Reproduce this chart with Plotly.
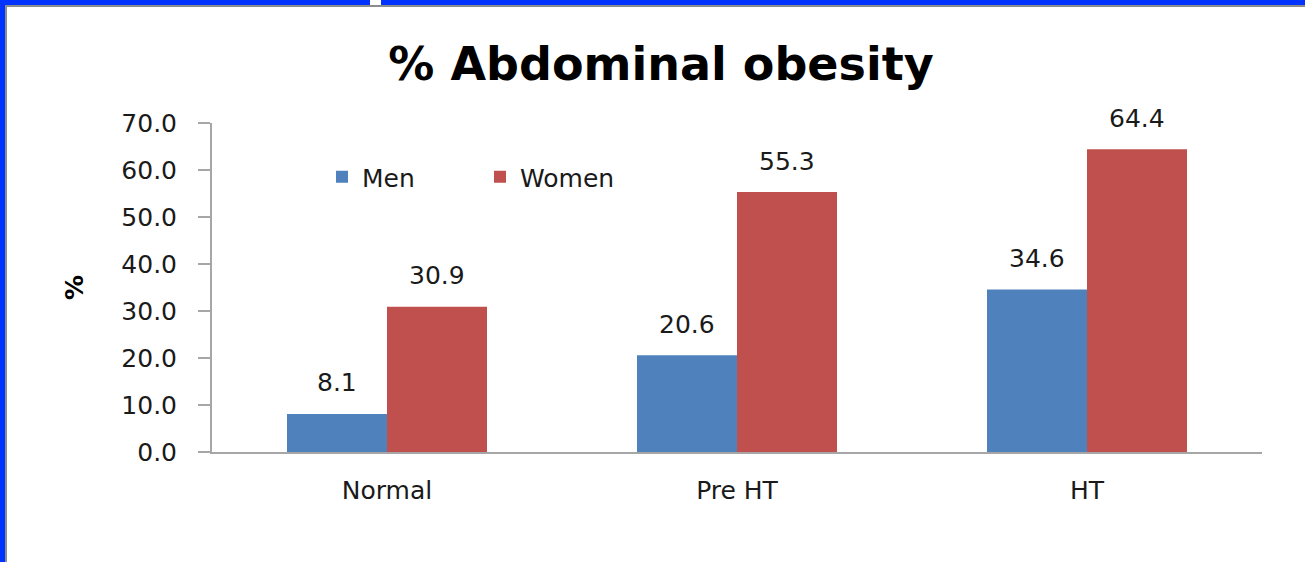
import plotly.graph_objects as go

categories = ["Normal", "Pre HT", "HT"]
men = [8.1, 20.6, 34.6]
women = [30.9, 55.3, 64.4]
y_ticks = [0, 10, 20, 30, 40, 50, 60, 70]
y_tick_labels = ["0.0", "10.0", "20.0", "30.0", "40.0", "50.0", "60.0", "70.0"]

W, H = 1305, 562
L, R, T, B = 212, 43, 123, 110
FONT = "DejaVu Sans"
TXT = "#1a1a1a"
FS = 25

fig = go.Figure()
fig.add_trace(go.Bar(name="Men", x=categories, y=men, marker_color="#4F81BD",
                     marker_line_width=0))
fig.add_trace(go.Bar(name="Women", x=categories, y=women, marker_color="#C0504D",
                     marker_line_width=0))

annotations = []
for cat, m, w in zip(categories, men, women):
    for val, dx in ((m, -50), (w, 50)):
        annotations.append(dict(x=cat, y=val, xref="x", yref="y", text=f"{val:.1f}",
                                showarrow=False, xshift=dx, yshift=31, yanchor="middle",
                                font=dict(family=FONT, size=FS, color=TXT)))

pw = W - L - R
ph = H - T - B
def px(x):
    return (x - L) / pw
def py(y):
    return (H - B - y) / ph

shapes = [
    dict(type="rect", xref="paper", yref="paper", x0=px(0), x1=px(5), y0=py(H), y1=py(0),
         fillcolor="#0033ff", line_width=0, layer="above"),
    dict(type="rect", xref="paper", yref="paper", x0=px(5), x1=px(7), y0=py(H), y1=py(5),
         fillcolor="#8c8c8c", line_width=0, layer="above"),
    dict(type="rect", xref="paper", yref="paper", x0=px(0), x1=px(W), y0=py(5), y1=py(0),
         fillcolor="#0033ff", line_width=0, layer="above"),
    dict(type="rect", xref="paper", yref="paper", x0=px(5), x1=px(W), y0=py(7), y1=py(5),
         fillcolor="#8c8c8c", line_width=0, layer="above"),
    dict(type="rect", xref="paper", yref="paper", x0=px(370), x1=px(381), y0=py(5), y1=py(0),
         fillcolor="#ffffff", line_width=0, layer="above"),
]

fig.update_layout(
    width=W, height=H,
    margin=dict(l=L, r=R, t=T, b=B),
    paper_bgcolor="white", plot_bgcolor="white",
    barmode="group", bargap=0.4286, bargroupgap=0,
    title=dict(text="<b>% Abdominal obesity</b>", x=661 / W, xanchor="center",
               y=1 - 64 / H, yanchor="middle", yref="container",
               font=dict(family=FONT, size=46, color="black")),
    legend=dict(orientation="h", x=px(322), y=py(177), xanchor="left", yanchor="middle",
                font=dict(family=FONT, size=FS, color=TXT), entrywidth=113,
                entrywidthmode="pixels", bgcolor="rgba(0,0,0,0)", traceorder="normal"),
    xaxis=dict(showline=True, linecolor="#a6a6a6", linewidth=2, ticks="",
               tickfont=dict(family=FONT, size=FS, color=TXT), showgrid=False,
               ticklabelstandoff=15),
    yaxis=dict(range=[0, 70], tickvals=y_ticks, ticktext=y_tick_labels,
               showline=True, linecolor="#a6a6a6", linewidth=2, ticks="outside",
               ticklen=12, tickcolor="#a6a6a6", tickwidth=2,
               tickfont=dict(family=FONT, size=FS, color=TXT), showgrid=False,
               zeroline=False, ticklabelstandoff=16,
               title=dict(text="<b>%</b>", standoff=31,
                          font=dict(family=FONT, size=25, color="black"))),
    annotations=annotations,
    shapes=shapes,
    showlegend=True,
)

fig.write_html("out.html", config={"displayModeBar": False},
               post_script="document.body.style.margin='0';")
